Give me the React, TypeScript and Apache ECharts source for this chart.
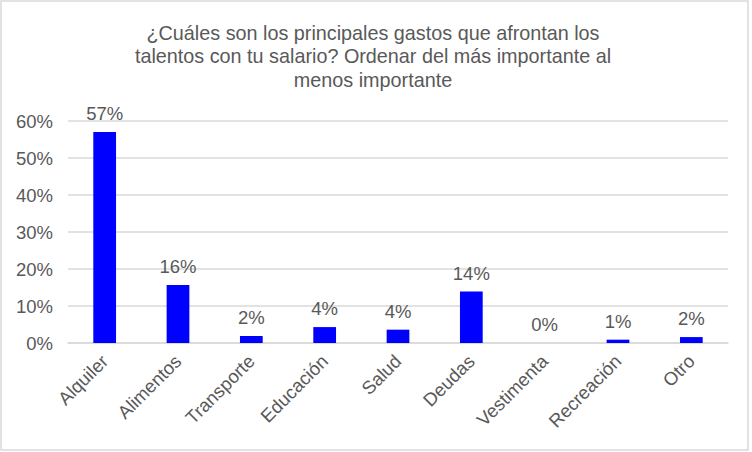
import React, { useEffect, useRef } from "react";
import * as echarts from "echarts";

const titleLines = [
  "¿Cuáles son los principales gastos que afrontan los",
  "talentos con tu salario? Ordenar del más importante al",
  "menos importante",
];
const categories = [
  "Alquiler",
  "Alimentos",
  "Transporte",
  "Educación",
  "Salud",
  "Deudas",
  "Vestimenta",
  "Recreación",
  "Otro",
];
const values = [0.57, 0.157, 0.019, 0.043, 0.036, 0.139, 0, 0.009, 0.016];
const yTicks = [0, 0.1, 0.2, 0.3, 0.4, 0.5, 0.6];

const FONT = "Arial, 'Liberation Sans', sans-serif";
const TEXT = "#595959";
const LABEL_SIZE = 18.5;

export default function App() {
  const ref = useRef<HTMLDivElement>(null);
  useEffect(() => {
    if (!ref.current) return;
    const chart = echarts.init(ref.current, null, { renderer: "svg" });
    chart.setOption({
      animation: false,
      backgroundColor: "#ffffff",
      graphic: [
        {
          type: "rect",
          shape: { x: 1, y: 1, width: 747, height: 449 },
          style: { fill: "none", stroke: "#d9d9d9", lineWidth: 1.5 },
          silent: true,
        },
        {
          type: "text",
          x: 373,
          y: 21,
          silent: true,
          style: {
            text: titleLines.join("\n"),
            textAlign: "center",
            textVerticalAlign: "top",
            fontFamily: FONT,
            fontSize: 19.8,
            lineHeight: 23.5,
            fill: TEXT,
          },
        },
      ],
      grid: { left: 68, right: 24, top: 121, bottom: 109, containLabel: false },
      xAxis: {
        type: "category",
        data: categories,
        axisLine: { show: true, lineStyle: { color: "#d9d9d9", width: 1.5 } },
        axisTick: { show: false },
        axisLabel: {
          rotate: 45,
          interval: 0,
          margin: 15,
          fontFamily: FONT,
          fontSize: LABEL_SIZE,
          color: TEXT,
        },
      },
      yAxis: {
        type: "value",
        min: yTicks[0],
        max: yTicks[yTicks.length - 1],
        interval: 0.1,
        axisLine: { show: false },
        axisTick: { show: false },
        splitLine: { lineStyle: { color: "#d9d9d9", width: 1.5 } },
        axisLabel: {
          margin: 15,
          fontFamily: FONT,
          fontSize: LABEL_SIZE,
          color: TEXT,
          formatter: (v: number) => `${Math.round(v * 100)}%`,
        },
      },
      series: [
        {
          type: "bar",
          data: values,
          barWidth: "31%",
          itemStyle: { color: "#0000ff" },
          label: {
            show: true,
            position: "top",
            distance: 9,
            fontFamily: FONT,
            fontSize: LABEL_SIZE,
            color: TEXT,
            formatter: (p: any) => `${Math.round(p.value * 100)}%`,
          },
        },
      ],
    });
    return () => chart.dispose();
  }, []);
  return (
    <div
      ref={ref}
      style={{ position: "fixed", left: 0, top: 0, width: 752, height: 452, background: "#fff" }}
    />
  );
}
